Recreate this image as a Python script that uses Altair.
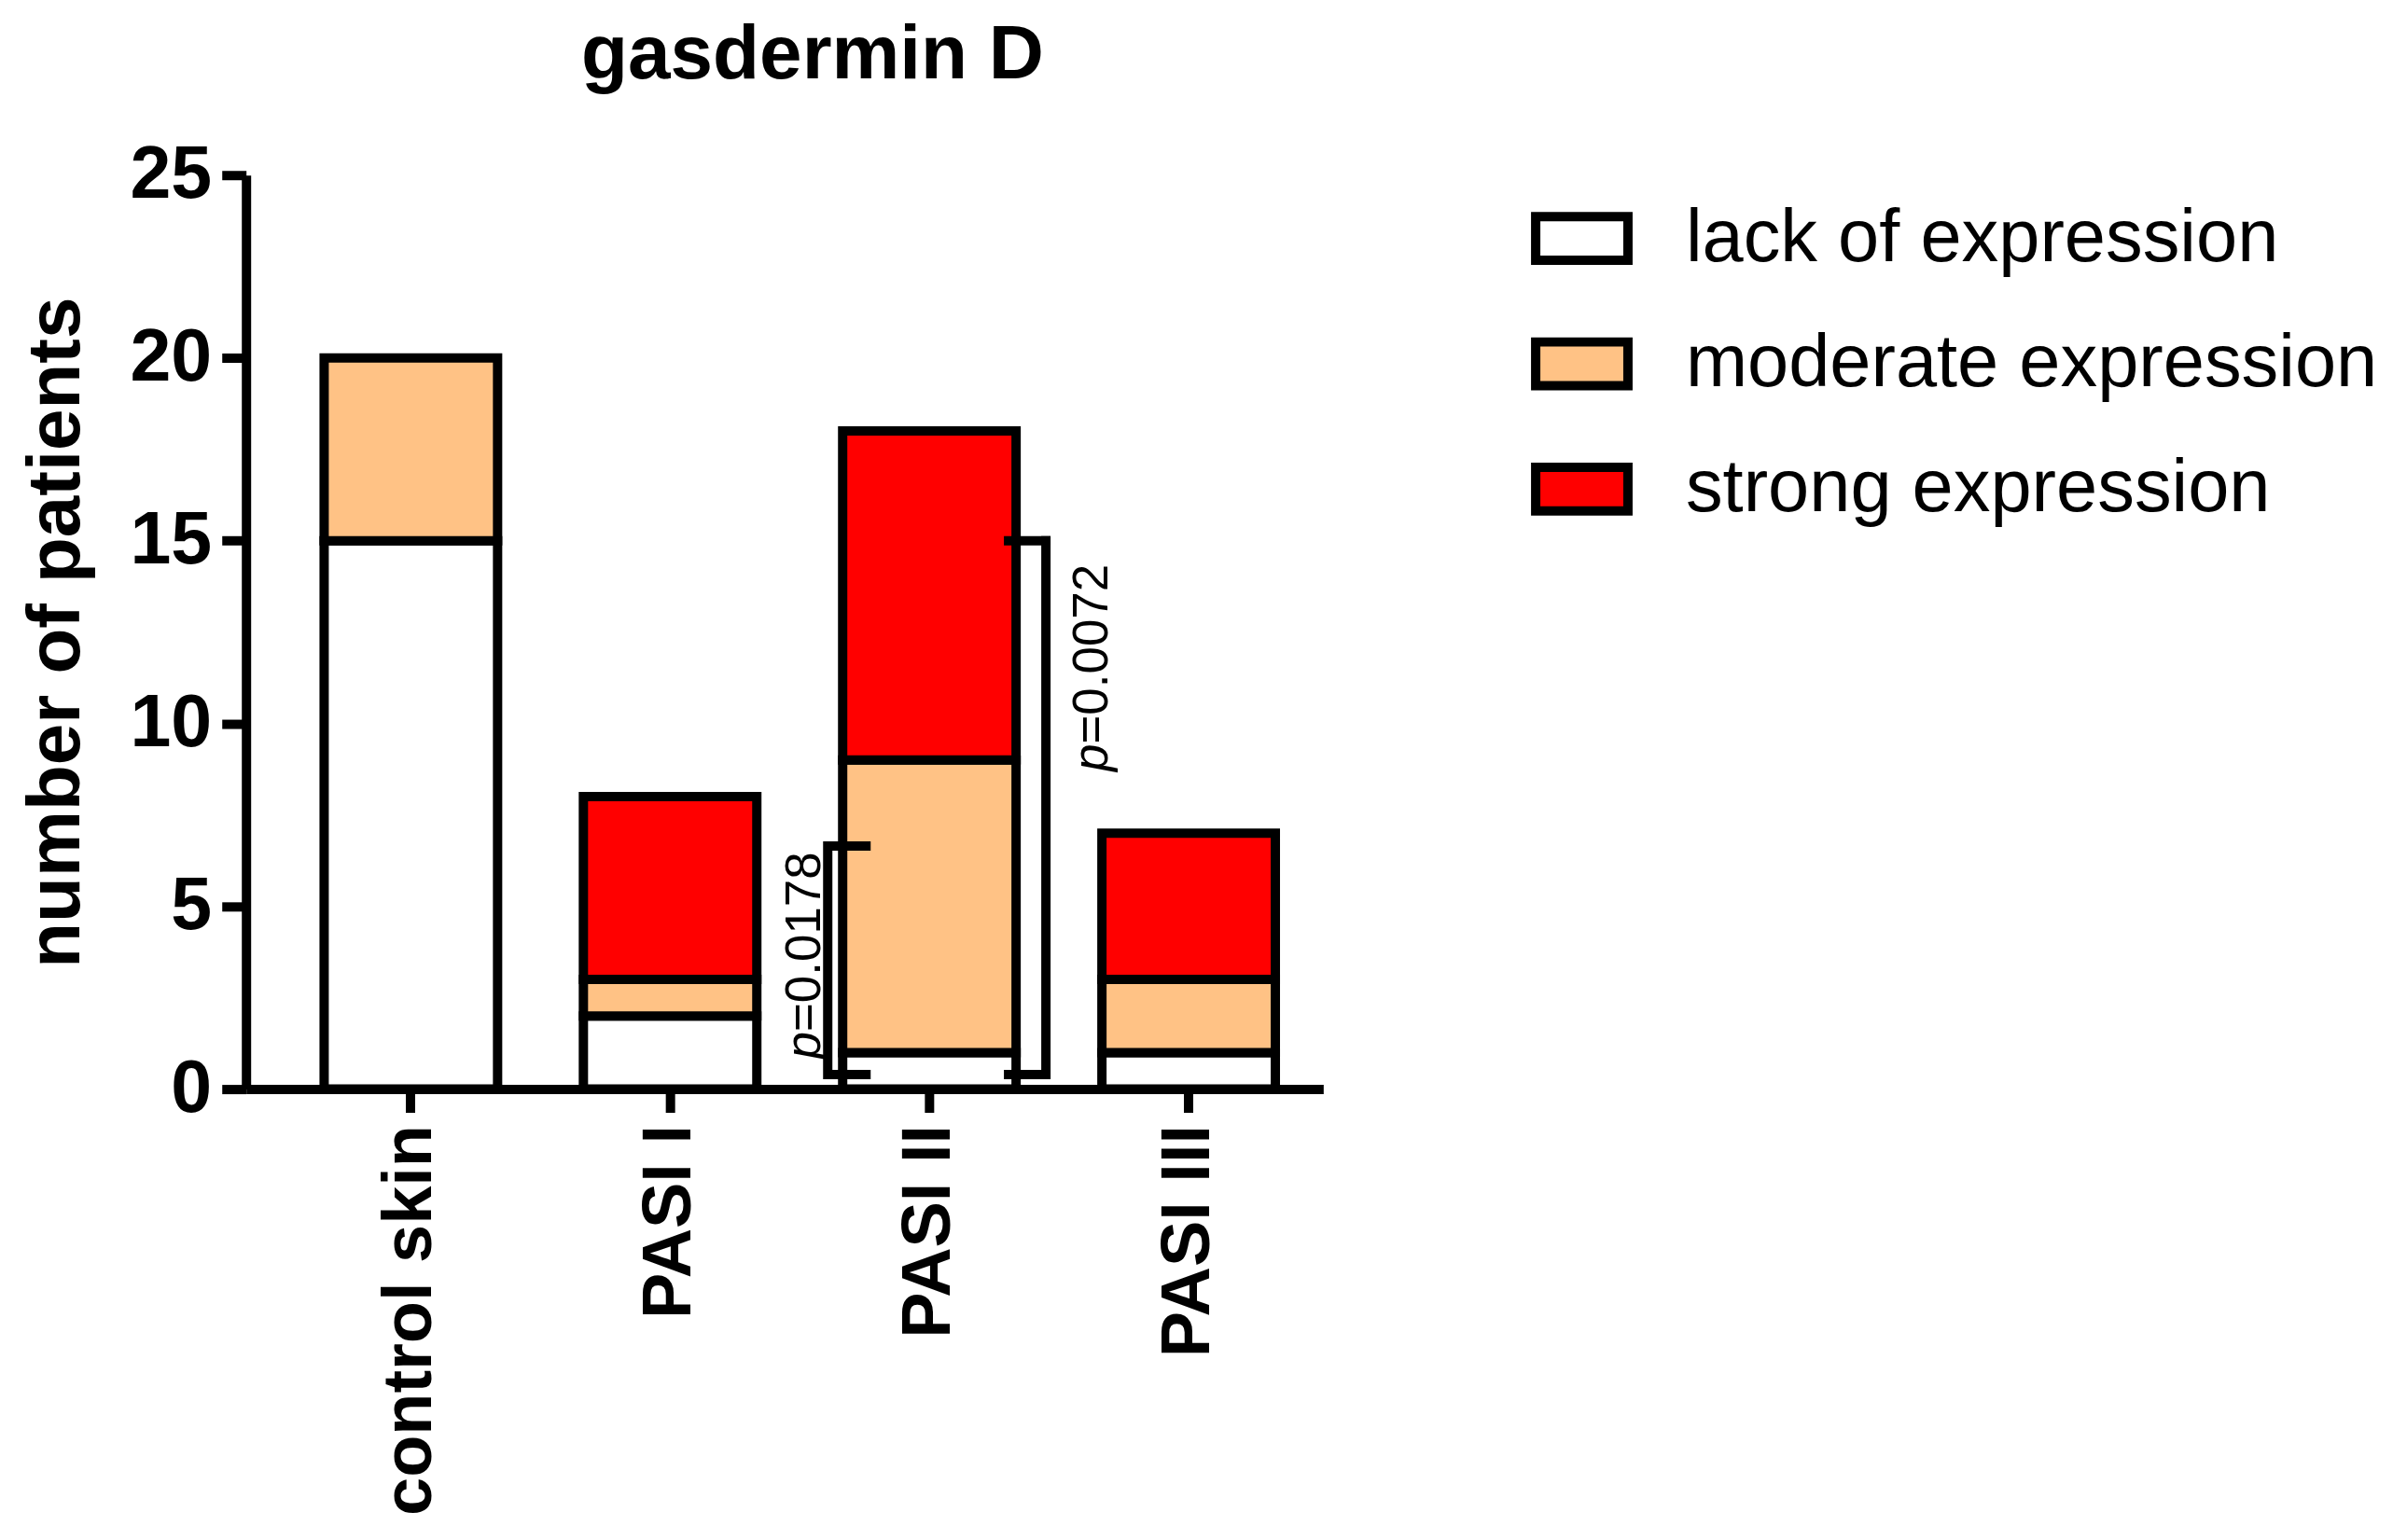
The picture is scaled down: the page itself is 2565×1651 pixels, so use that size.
import altair as alt
import pandas as pd

# ---------------- data ----------------
categories = ["control skin", "PASI I", "PASI II", "PASI III"]
levels = ["lack of expression", "moderate expression", "strong expression"]
lack = [15, 2, 1, 1]
moderate = [5, 1, 8, 2]
strong = [0, 5, 9, 4]
level_colors = ["#FFFFFF", "#FFC285", "#FF0000"]
y_ticks = [0, 5, 10, 15, 20, 25]

# significance brackets (both drawn beside PASI II)
bracket_group = ["PASI II", "PASI II"]
bracket_top = [6.65, 15.0]
bracket_bottom = [0.4, 0.4]
bracket_p = ["=0.0178", "=0.0072"]
bracket_text_at = [1.57, 9.44]

rows = []
for i, c in enumerate(categories):
    for j, (lvl, vals) in enumerate(zip(levels, [lack, moderate, strong])):
        if vals[i] > 0:
            rows.append({"group": c, "level": lvl, "order": j, "count": vals[i]})
df = pd.DataFrame(rows)

FONT = "Liberation Sans"
LW = 10
BAND_HALF = 93  # half of the bar width in pixels (for bracket arms)

x_scale = alt.Scale(domain=categories, paddingInner=0.331, paddingOuter=0.243, align=0.62)
y_scale = alt.Scale(domain=[0, 25], nice=False, zero=True)

x_axis = alt.Axis(labelAngle=270, labelAlign="right", labelBaseline="middle",
                  labelFont=FONT, labelFontWeight="bold", labelFontSize=74,
                  labelColor="black", labelPadding=13, labelLimit=2000,
                  labelOverlap=False, tickSize=25, tickWidth=LW, tickColor="black",
                  domainWidth=LW, domainColor="black", grid=False, title=None)
y_axis = alt.Axis(values=y_ticks, labelFont=FONT, labelFontWeight="bold",
                  labelFontSize=79, labelColor="black", labelPadding=11,
                  tickSize=26, tickWidth=LW, tickColor="black",
                  domainWidth=LW, domainColor="black", grid=False,
                  title="number of patients",
                  titleFont=FONT, titleFontWeight="bold", titleFontSize=80,
                  titleColor="black", titlePadding=38)

YT = "number of patients"

bars = alt.Chart(df).mark_bar(stroke="black", strokeWidth=LW, strokeJoin="miter").encode(
    x=alt.X("group:N", scale=x_scale, sort=categories, title=None, axis=x_axis),
    y=alt.Y("count:Q", stack="zero", scale=y_scale, title=YT, axis=y_axis),
    color=alt.Color("level:N", scale=alt.Scale(domain=levels, range=level_colors),
                    legend=alt.Legend(title=None, orient="none", legendX=1379, legendY=13.5,
                                      symbolType="M-1,-0.473H1V0.473H-1Z", symbolSize=9800,
                                      symbolStrokeColor="black", symbolStrokeWidth=LW,
                                      labelFont=FONT, labelFontSize=79.5, labelColor="black",
                                      labelOffset=57, rowPadding=36.5, padding=0,
                                      labelLimit=2000)),
    order=alt.Order("order:Q", sort="ascending"),
)

bdf = pd.DataFrame({"group": bracket_group, "top": bracket_top, "bottom": bracket_bottom,
                    "p": bracket_p, "at": bracket_text_at})

# style per bracket: band side, vertical offset, arm centre offset (from band centre), text offset
styles = [
    {"side": 0, "v": -16, "arm": -BAND_HALF + 5, "txt": -24},
    {"side": 1, "v": 32, "arm": BAND_HALF + 12, "txt": 98},
]

layers = [bars]
for k, st in enumerate(styles):
    sub = bdf.iloc[[k]]
    base = alt.Chart(sub)
    xenc = alt.X("group:N", bandPosition=st["side"], sort=categories, title=None, axis=x_axis)
    xc = alt.X("group:N", sort=categories, title=None, axis=x_axis)
    vert = base.mark_rule(color="black", strokeWidth=LW, strokeCap="square",
                          xOffset=st["v"]).encode(
        x=xenc, y=alt.Y("top:Q", title=YT, axis=y_axis), y2="bottom:Q")
    arm_top = base.mark_tick(orient="horizontal", size=50, thickness=LW, color="black",
                             opacity=1, xOffset=st["arm"]).encode(
        x=xc, y=alt.Y("top:Q", title=YT, axis=y_axis))
    arm_bot = base.mark_tick(orient="horizontal", size=50, thickness=LW, color="black",
                             opacity=1, xOffset=st["arm"]).encode(
        x=xc, y=alt.Y("bottom:Q", title=YT, axis=y_axis))
    p_it = base.mark_text(angle=270, align="right", baseline="alphabetic", font=FONT,
                          fontStyle="italic", fontSize=53, color="black",
                          xOffset=st["txt"]).encode(
        x=xenc, y=alt.Y("at:Q", title=YT, axis=y_axis), text=alt.value("p"))
    p_val = base.mark_text(angle=270, align="left", baseline="alphabetic", font=FONT,
                           fontSize=53, color="black", xOffset=st["txt"]).encode(
        x=xenc, y=alt.Y("at:Q", title=YT, axis=y_axis), text="p:N")
    layers += [vert, arm_top, arm_bot, p_it, p_val]

chart = alt.layer(*layers).properties(
    width=1156, height=981,
    title=alt.TitleParams("gasdermin D", font=FONT, fontSize=82, fontWeight="bold",
                          color="black", anchor="middle", frame="group", dx=30,
                          baseline="alphabetic", offset=-17),
    autosize="none",
    padding={"left": 256, "top": 179, "right": 1140, "bottom": 460},
).configure_view(stroke=None)

chart.save("out.html", embed_options={"renderer": "svg", "actions": False})
